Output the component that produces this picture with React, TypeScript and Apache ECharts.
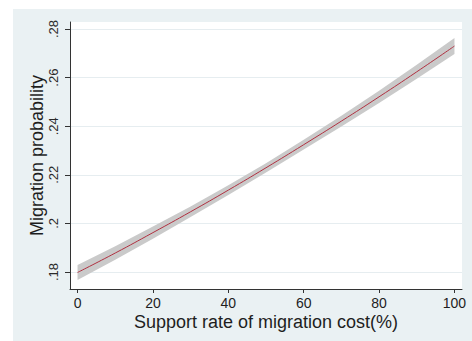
import React, { useEffect, useRef } from "react";
import * as echarts from "echarts";

const xValues = [0, 10, 20, 30, 40, 50, 60, 70, 80, 90, 100];
const prob = [0.1798, 0.1878, 0.1962, 0.2048, 0.2137, 0.2229, 0.2324, 0.2421, 0.2521, 0.2624, 0.273];
const lower = [0.1767, 0.185, 0.1937, 0.2026, 0.2117, 0.221, 0.2304, 0.2399, 0.2496, 0.2595, 0.2697];
const upper = [0.1829, 0.1906, 0.1987, 0.207, 0.2157, 0.2248, 0.2344, 0.2443, 0.2546, 0.2653, 0.2763];
const xTicks = [0, 20, 40, 60, 80, 100];
const yTicks = [0.18, 0.2, 0.22, 0.24, 0.26, 0.28];
const yTickLabels = [".18", ".2", ".22", ".24", ".26", ".28"];

const FONT = "'Liberation Sans', Arial, sans-serif";

export default function App() {
  const ref = useRef<HTMLDivElement>(null);
  useEffect(() => {
    if (!ref.current) return;
    const chart = echarts.init(ref.current, null, { renderer: "svg" });
    const pair = (arr: number[]) => xValues.map((x, i) => [x, arr[i]]);
    const bandData = xValues.map((x, i) => [x, lower[i], upper[i]]);
    chart.setOption({
      animation: false,
      backgroundColor: "transparent",
      textStyle: { fontFamily: FONT },
      grid: {
        left: 70,
        top: 22,
        right: 10,
        bottom: 52,
        show: true,
        backgroundColor: "#ffffff",
        borderWidth: 0,
      },
      xAxis: {
        type: "value",
        min: -2,
        max: 102,
        name: "Support rate of migration cost(%)",
        nameLocation: "middle",
        nameGap: 24,
        nameMoveOverlap: false,
        nameTextStyle: { fontSize: 18, color: "#1e1e1e", fontFamily: FONT, verticalAlign: "top" },
        axisLine: { show: true, onZero: false, lineStyle: { color: "#333333", width: 1 } },
        axisTick: { show: true, length: 4, customValues: xTicks, lineStyle: { color: "#333333" } },
        axisLabel: {
          customValues: xTicks,
          fontSize: 14,
          color: "#1e1e1e",
          margin: 7,
          fontFamily: FONT,
        },
        splitLine: { show: false },
      },
      yAxis: {
        type: "value",
        min: 0.173,
        max: 0.2829,
        name: "Migration probability",
        nameLocation: "middle",
        nameRotate: 90,
        nameGap: 24,
        nameMoveOverlap: false,
        nameTextStyle: { fontSize: 18, color: "#1e1e1e", fontFamily: FONT },
        axisLine: { show: true, onZero: false, lineStyle: { color: "#333333", width: 1 } },
        axisTick: { show: true, length: 5, customValues: yTicks, lineStyle: { color: "#333333" } },
        axisLabel: {
          customValues: yTicks,
          rotate: 90,
          fontSize: 13,
          color: "#2a2a2a",
          margin: 10,
          fontFamily: FONT,
          formatter: (v: number) => {
            const idx = yTicks.findIndex((t) => Math.abs(t - v) < 1e-6);
            return idx >= 0 ? yTickLabels[idx] : "";
          },
        },
        splitLine: { show: true, lineStyle: { color: "#E6EDF0", width: 1 } },
      },
      series: [
        {
          type: "custom",
          data: bandData,
          silent: true,
          clip: true,
          renderItem: (params: any, api: any) => {
            if (params.dataIndex !== 0) return null;
            const pts: number[][] = [];
            for (let i = 0; i < xValues.length; i++) pts.push(api.coord([xValues[i], lower[i]]));
            for (let i = xValues.length - 1; i >= 0; i--) pts.push(api.coord([xValues[i], upper[i]]));
            return {
              type: "polygon",
              shape: { points: pts },
              style: { fill: "#CACACA", stroke: "none" },
            };
          },
        },
        {
          type: "line",
          data: pair(prob),
          smooth: true,
          symbol: "none",
          lineStyle: { color: "#B03040", width: 1 },
        },
      ],
    });
    return () => chart.dispose();
  }, []);

  return (
    <div style={{ position: "absolute", left: 0, top: 0, width: 472, height: 341, background: "#ffffff" }}>
      <div style={{ position: "absolute", left: 13, top: 9, right: 0, bottom: 0, background: "#EAF1F3" }} />
      <div ref={ref} style={{ position: "absolute", left: 0, top: 0, width: 472, height: 341 }} />
    </div>
  );
}
